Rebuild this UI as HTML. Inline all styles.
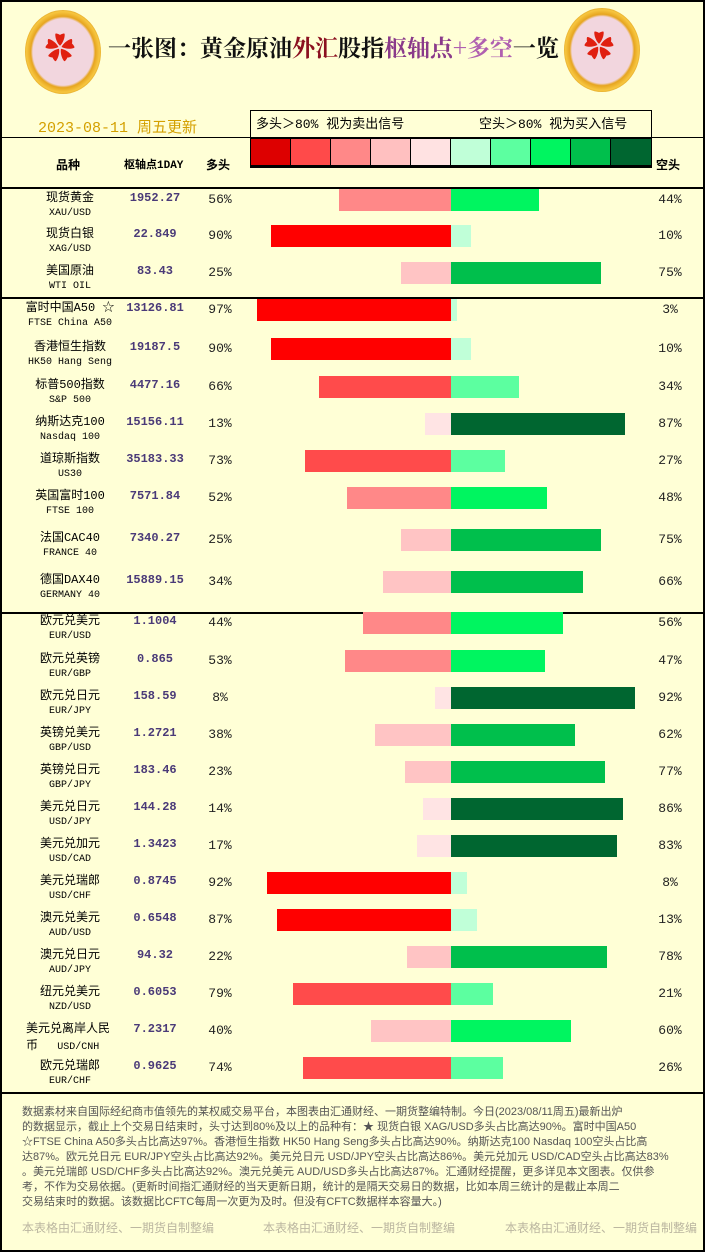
<!DOCTYPE html>
<html><head><meta charset="utf-8"><style>
*{margin:0;padding:0;box-sizing:border-box}
body{width:705px;height:1252px;background:#ffffd6;font-family:"Liberation Mono","Noto Sans CJK SC",monospace;position:relative;overflow:hidden;color:#000}
.frame{position:absolute;left:0;top:0;width:705px;height:1252px;border:2px solid #000}
.hl{position:absolute;left:0;width:705px;height:2px;background:#000}
.logo{position:absolute;width:76px;height:84px;border-radius:50%;background:radial-gradient(ellipse at center,#f2d6de 56%,#e6a520 60%,#f7c640 68%,#c88410 76%,#ffffd6 79%)}
.logo:after{content:"✿";position:absolute;left:20px;top:14px;font-size:30px;color:#e02010}
.title{position:absolute;left:108px;top:30px;font-size:23px;font-family:"Noto Serif CJK SC",serif;font-weight:bold;color:#111}
.date{position:absolute;left:38px;top:116px;font-size:15px;color:#d4a000}
.lg{position:absolute;left:250px;top:110px;width:402px;height:29px;border:1px solid #000;border-bottom:none;font-size:13px;line-height:28px;padding-left:5px;background:#ffffd6}
.sw{position:absolute;top:138px;height:30px;border:1px solid #000;border-bottom:3px solid #000}
.hd{position:absolute;top:156px;font-size:12px;font-weight:bold}
.r{position:absolute;left:0;width:705px;height:22px}
.n{position:absolute;left:0;width:140px;text-align:center;top:1px;font-size:12px;line-height:17px}
.n span{font-size:10px;display:block;line-height:14px}
.p{position:absolute;left:115px;width:80px;text-align:center;top:2px;font-size:12px;color:#4a3a78;font-weight:bold}
.l{position:absolute;left:200px;width:40px;text-align:center;top:3px;font-size:13px;color:#222}
.s{position:absolute;left:650px;width:40px;text-align:center;top:3px;font-size:13px;color:#222}
.b{position:absolute;top:0;height:22px}
.ft{position:absolute;left:22px;top:1105px;font-family:"Liberation Sans","Noto Sans CJK SC",sans-serif;font-size:11px;line-height:15px;color:#555;white-space:nowrap}
.wm{position:absolute;top:1219px;font-size:12px;color:#bbb6a0}
</style></head><body>
<div class="frame"></div>
<div class="logo" style="left:25px;top:10px"></div>
<div class="logo" style="left:564px;top:8px"></div>
<div class="title">一张图：黄金原油<span style="color:#8b1020">外汇</span>股指<span style="color:#8a3a8a">枢轴点</span><span style="color:#b060b0">+多空</span>一览</div>
<div class="date">2023-08-11 周五更新</div>
<div class="lg">多头＞80% 视为卖出信号<span style="position:absolute;left:228px">空头＞80% 视为买入信号</span></div>
<div class="hl" style="top:137px;height:1px"></div>
<div class="sw" style="left:250px;width:41px;background:#dd0000"></div>
<div class="sw" style="left:290px;width:41px;background:#ff4a4a"></div>
<div class="sw" style="left:330px;width:41px;background:#ff8888"></div>
<div class="sw" style="left:370px;width:41px;background:#ffc0c0"></div>
<div class="sw" style="left:410px;width:41px;background:#ffe2e2"></div>
<div class="sw" style="left:450px;width:41px;background:#c0ffd8"></div>
<div class="sw" style="left:490px;width:41px;background:#5cffa0"></div>
<div class="sw" style="left:530px;width:41px;background:#00f560"></div>
<div class="sw" style="left:570px;width:41px;background:#00bf4c"></div>
<div class="sw" style="left:610px;width:42px;background:#006630"></div>
<div class="hd" style="left:56px">品种</div>
<div class="hd" style="left:124px;font-size:11px">枢轴点1DAY</div>
<div class="hd" style="left:206px">多头</div>
<div class="hd" style="left:656px">空头</div>
<div class="hl" style="top:187px"></div>
<div class="hl" style="top:297px"></div>
<div class="hl" style="top:612px"></div>
<div class="hl" style="top:1092px"></div>

<div class="r" style="top:189px"><div class="n">现货黄金<span>XAU/USD</span></div><div class="p">1952.27</div><div class="l">56%</div><div class="b" style="left:339px;width:112px;background:#ff8888"></div><div class="b" style="left:451px;width:88px;background:#00f560"></div><div class="s">44%</div></div>
<div class="r" style="top:225px"><div class="n">现货白银<span>XAG/USD</span></div><div class="p">22.849</div><div class="l">90%</div><div class="b" style="left:271px;width:180px;background:#ff0000"></div><div class="b" style="left:451px;width:20px;background:#c0ffd8"></div><div class="s">10%</div></div>
<div class="r" style="top:262px"><div class="n">美国原油<span>WTI OIL</span></div><div class="p">83.43</div><div class="l">25%</div><div class="b" style="left:401px;width:50px;background:#ffc4c4"></div><div class="b" style="left:451px;width:150px;background:#00bf4c"></div><div class="s">75%</div></div>
<div class="r" style="top:299px"><div class="n">富时中国A50 ☆<span>FTSE China A50</span></div><div class="p">13126.81</div><div class="l">97%</div><div class="b" style="left:257px;width:194px;background:#ff0000"></div><div class="b" style="left:451px;width:6px;background:#c0ffd8"></div><div class="s">3%</div></div>
<div class="r" style="top:338px"><div class="n">香港恒生指数<span>HK50 Hang Seng</span></div><div class="p">19187.5</div><div class="l">90%</div><div class="b" style="left:271px;width:180px;background:#ff0000"></div><div class="b" style="left:451px;width:20px;background:#c0ffd8"></div><div class="s">10%</div></div>
<div class="r" style="top:376px"><div class="n">标普500指数<span>S&amp;P 500</span></div><div class="p">4477.16</div><div class="l">66%</div><div class="b" style="left:319px;width:132px;background:#ff4b4b"></div><div class="b" style="left:451px;width:68px;background:#5cffa0"></div><div class="s">34%</div></div>
<div class="r" style="top:413px"><div class="n">纳斯达克100<span>Nasdaq 100</span></div><div class="p">15156.11</div><div class="l">13%</div><div class="b" style="left:425px;width:26px;background:#ffe4e4"></div><div class="b" style="left:451px;width:174px;background:#006630"></div><div class="s">87%</div></div>
<div class="r" style="top:450px"><div class="n">道琼斯指数<span>US30</span></div><div class="p">35183.33</div><div class="l">73%</div><div class="b" style="left:305px;width:146px;background:#ff4b4b"></div><div class="b" style="left:451px;width:54px;background:#5cffa0"></div><div class="s">27%</div></div>
<div class="r" style="top:487px"><div class="n">英国富时100<span>FTSE 100</span></div><div class="p">7571.84</div><div class="l">52%</div><div class="b" style="left:347px;width:104px;background:#ff8888"></div><div class="b" style="left:451px;width:96px;background:#00f560"></div><div class="s">48%</div></div>
<div class="r" style="top:529px"><div class="n">法国CAC40<span>FRANCE 40</span></div><div class="p">7340.27</div><div class="l">25%</div><div class="b" style="left:401px;width:50px;background:#ffc4c4"></div><div class="b" style="left:451px;width:150px;background:#00bf4c"></div><div class="s">75%</div></div>
<div class="r" style="top:571px"><div class="n">德国DAX40<span>GERMANY 40</span></div><div class="p">15889.15</div><div class="l">34%</div><div class="b" style="left:383px;width:68px;background:#ffc4c4"></div><div class="b" style="left:451px;width:132px;background:#00bf4c"></div><div class="s">66%</div></div>
<div class="r" style="top:612px"><div class="n">欧元兑美元<span>EUR/USD</span></div><div class="p">1.1004</div><div class="l">44%</div><div class="b" style="left:363px;width:88px;background:#ff8888"></div><div class="b" style="left:451px;width:112px;background:#00f560"></div><div class="s">56%</div></div>
<div class="r" style="top:650px"><div class="n">欧元兑英镑<span>EUR/GBP</span></div><div class="p">0.865</div><div class="l">53%</div><div class="b" style="left:345px;width:106px;background:#ff8888"></div><div class="b" style="left:451px;width:94px;background:#00f560"></div><div class="s">47%</div></div>
<div class="r" style="top:687px"><div class="n">欧元兑日元<span>EUR/JPY</span></div><div class="p">158.59</div><div class="l">8%</div><div class="b" style="left:435px;width:16px;background:#ffe4e4"></div><div class="b" style="left:451px;width:184px;background:#006630"></div><div class="s">92%</div></div>
<div class="r" style="top:724px"><div class="n">英镑兑美元<span>GBP/USD</span></div><div class="p">1.2721</div><div class="l">38%</div><div class="b" style="left:375px;width:76px;background:#ffc4c4"></div><div class="b" style="left:451px;width:124px;background:#00bf4c"></div><div class="s">62%</div></div>
<div class="r" style="top:761px"><div class="n">英镑兑日元<span>GBP/JPY</span></div><div class="p">183.46</div><div class="l">23%</div><div class="b" style="left:405px;width:46px;background:#ffc4c4"></div><div class="b" style="left:451px;width:154px;background:#00bf4c"></div><div class="s">77%</div></div>
<div class="r" style="top:798px"><div class="n">美元兑日元<span>USD/JPY</span></div><div class="p">144.28</div><div class="l">14%</div><div class="b" style="left:423px;width:28px;background:#ffe4e4"></div><div class="b" style="left:451px;width:172px;background:#006630"></div><div class="s">86%</div></div>
<div class="r" style="top:835px"><div class="n">美元兑加元<span>USD/CAD</span></div><div class="p">1.3423</div><div class="l">17%</div><div class="b" style="left:417px;width:34px;background:#ffe4e4"></div><div class="b" style="left:451px;width:166px;background:#006630"></div><div class="s">83%</div></div>
<div class="r" style="top:872px"><div class="n">美元兑瑞郎<span>USD/CHF</span></div><div class="p">0.8745</div><div class="l">92%</div><div class="b" style="left:267px;width:184px;background:#ff0000"></div><div class="b" style="left:451px;width:16px;background:#c0ffd8"></div><div class="s">8%</div></div>
<div class="r" style="top:909px"><div class="n">澳元兑美元<span>AUD/USD</span></div><div class="p">0.6548</div><div class="l">87%</div><div class="b" style="left:277px;width:174px;background:#ff0000"></div><div class="b" style="left:451px;width:26px;background:#c0ffd8"></div><div class="s">13%</div></div>
<div class="r" style="top:946px"><div class="n">澳元兑日元<span>AUD/JPY</span></div><div class="p">94.32</div><div class="l">22%</div><div class="b" style="left:407px;width:44px;background:#ffc4c4"></div><div class="b" style="left:451px;width:156px;background:#00bf4c"></div><div class="s">78%</div></div>
<div class="r" style="top:983px"><div class="n">纽元兑美元<span>NZD/USD</span></div><div class="p">0.6053</div><div class="l">79%</div><div class="b" style="left:293px;width:158px;background:#ff4b4b"></div><div class="b" style="left:451px;width:42px;background:#5cffa0"></div><div class="s">21%</div></div>
<div class="r" style="top:1020px"><div class="n" style="left:26px;width:100px;text-align:left">美元兑离岸人民<br>币 <span style="display:inline;margin-left:12px">USD/CNH</span></div><div class="p">7.2317</div><div class="l">40%</div><div class="b" style="left:371px;width:80px;background:#ffc4c4"></div><div class="b" style="left:451px;width:120px;background:#00f560"></div><div class="s">60%</div></div>
<div class="r" style="top:1057px"><div class="n">欧元兑瑞郎<span>EUR/CHF</span></div><div class="p">0.9625</div><div class="l">74%</div><div class="b" style="left:303px;width:148px;background:#ff4b4b"></div><div class="b" style="left:451px;width:52px;background:#5cffa0"></div><div class="s">26%</div></div>

<div class="ft">数据素材来自国际经纪商市值领先的某权威交易平台，本图表由汇通财经、一期货整编特制。今日(2023/08/11周五)最新出炉<br>的数据显示，截止上个交易日结束时，头寸达到80%及以上的品种有：★ 现货白银 XAG/USD多头占比高达90%。富时中国A50<br>☆FTSE China A50多头占比高达97%。香港恒生指数 HK50 Hang Seng多头占比高达90%。纳斯达克100 Nasdaq 100空头占比高<br>达87%。欧元兑日元 EUR/JPY空头占比高达92%。美元兑日元 USD/JPY空头占比高达86%。美元兑加元 USD/CAD空头占比高达83%<br>。美元兑瑞郎 USD/CHF多头占比高达92%。澳元兑美元 AUD/USD多头占比高达87%。汇通财经提醒，更多详见本文图表。仅供参<br>考，不作为交易依据。(更新时间指汇通财经的当天更新日期，统计的是隔天交易日的数据，比如本周三统计的是截止本周二<br>交易结束时的数据。该数据比CFTC每周一次更为及时。但没有CFTC数据样本容量大。)</div>
<div class="wm" style="left:22px">本表格由汇通财经、一期货自制整编</div>
<div class="wm" style="left:263px">本表格由汇通财经、一期货自制整编</div>
<div class="wm" style="left:505px">本表格由汇通财经、一期货自制整编</div>
</body></html>
